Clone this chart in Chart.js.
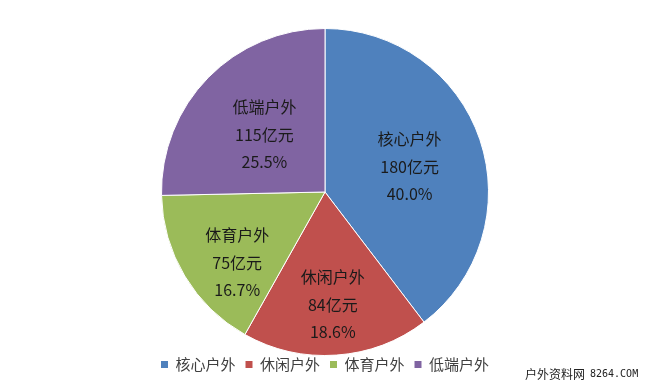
<!DOCTYPE html>
<html>
<head>
<meta charset="utf-8">
<script src="https://cdn.jsdelivr.net/npm/chart.js@4.4.1/dist/chart.umd.min.js"></script>
<style>
  html, body { margin: 0; padding: 0; background: #fff; }
</style>
</head>
<body>
<canvas id="pie" width="650" height="386"></canvas>
<script>
// datos del grafico
const categorias = ['核心户外', '休闲户外', '体育户外', '低端户外'];
const valores = [180, 84, 75, 115];
const porcentajes = ['40.0%', '18.6%', '16.7%', '25.5%'];
const colores = ['#4F81BD', '#C0504D', '#9BBB59', '#8064A2'];

// posicion de cada etiqueta dentro de su porcion (radio relativo, giro en grados)
const posEtiquetas = [
    { r: 0.54, a: 2 },
    { r: 0.69, a: 0 },
    { r: 0.69, a: -8 },
    { r: 0.51, a: -1 }
];

const etiquetasPlugin = {
    id: 'etiquetas',
    beforeInit(chart) {
        // la leyenda ocupa 30px abajo
        const fit = chart.legend.fit;
        chart.legend.fit = function () {
            fit.call(this);
            this.height = 30;
        };
    },
    afterLayout(chart) {
        const lg = chart.legend;
        lg.top = 347;
        lg.bottom = lg.top + lg.height;
    },
    afterDatasetsDraw(chart) {
        const ctx = chart.ctx;
        const meta = chart.getDatasetMeta(0);
        ctx.save();
        ctx.font = '16px "Noto Sans CJK SC"';
        ctx.fillStyle = '#1a1a1a';
        ctx.textAlign = 'center';
        ctx.textBaseline = 'middle';
        meta.data.forEach((arc, i) => {
            const p = arc.getProps(['x', 'y', 'startAngle', 'endAngle', 'outerRadius'], true);
            const pos = posEtiquetas[i];
            const mid = (p.startAngle + p.endAngle) / 2 + pos.a * Math.PI / 180;
            const r = p.outerRadius * pos.r;
            const x = p.x + Math.cos(mid) * r;
            const y = p.y + Math.sin(mid) * r;
            const lineas = [categorias[i], valores[i] + '亿元', porcentajes[i]];
            lineas.forEach((t, j) => ctx.fillText(t, x, y + (j - 1) * 27.5));
        });
        ctx.restore();
    },
    afterDraw(chart) {
        // marca de agua
        const ctx = chart.ctx;
        ctx.save();
        ctx.fillStyle = '#222';
        ctx.textBaseline = 'middle';
        ctx.textAlign = 'left';
        ctx.font = '12px "Noto Sans CJK SC"';
        ctx.fillText('户外资料网', 525, 374);
        ctx.font = '10px "DejaVu Sans Mono"';
        ctx.fillText('8264.COM', 590, 374);
        ctx.restore();
    }
};

new Chart(document.getElementById('pie'), {
    type: 'pie',
    data: {
        labels: categorias,
        datasets: [{
            data: valores,
            backgroundColor: colores,
            borderColor: '#ffffff',
            borderWidth: 1
        }]
    },
    options: {
        responsive: false,
        animation: false,
        layout: { padding: { top: 28 } },
        plugins: {
            tooltip: { enabled: false },
            legend: {
                position: 'bottom',
                labels: {
                    boxWidth: 7,
                    boxHeight: 7,
                    padding: 10,
                    color: '#404040',
                    font: { family: '"Noto Sans CJK SC"', size: 15 },
                    generateLabels(chart) {
                        const items = Chart.overrides.pie.plugins.legend.labels.generateLabels(chart);
                        items.forEach(it => { it.lineWidth = 0; });
                        return items;
                    }
                }
            }
        }
    },
    plugins: [etiquetasPlugin]
});
</script>
</body>
</html>
